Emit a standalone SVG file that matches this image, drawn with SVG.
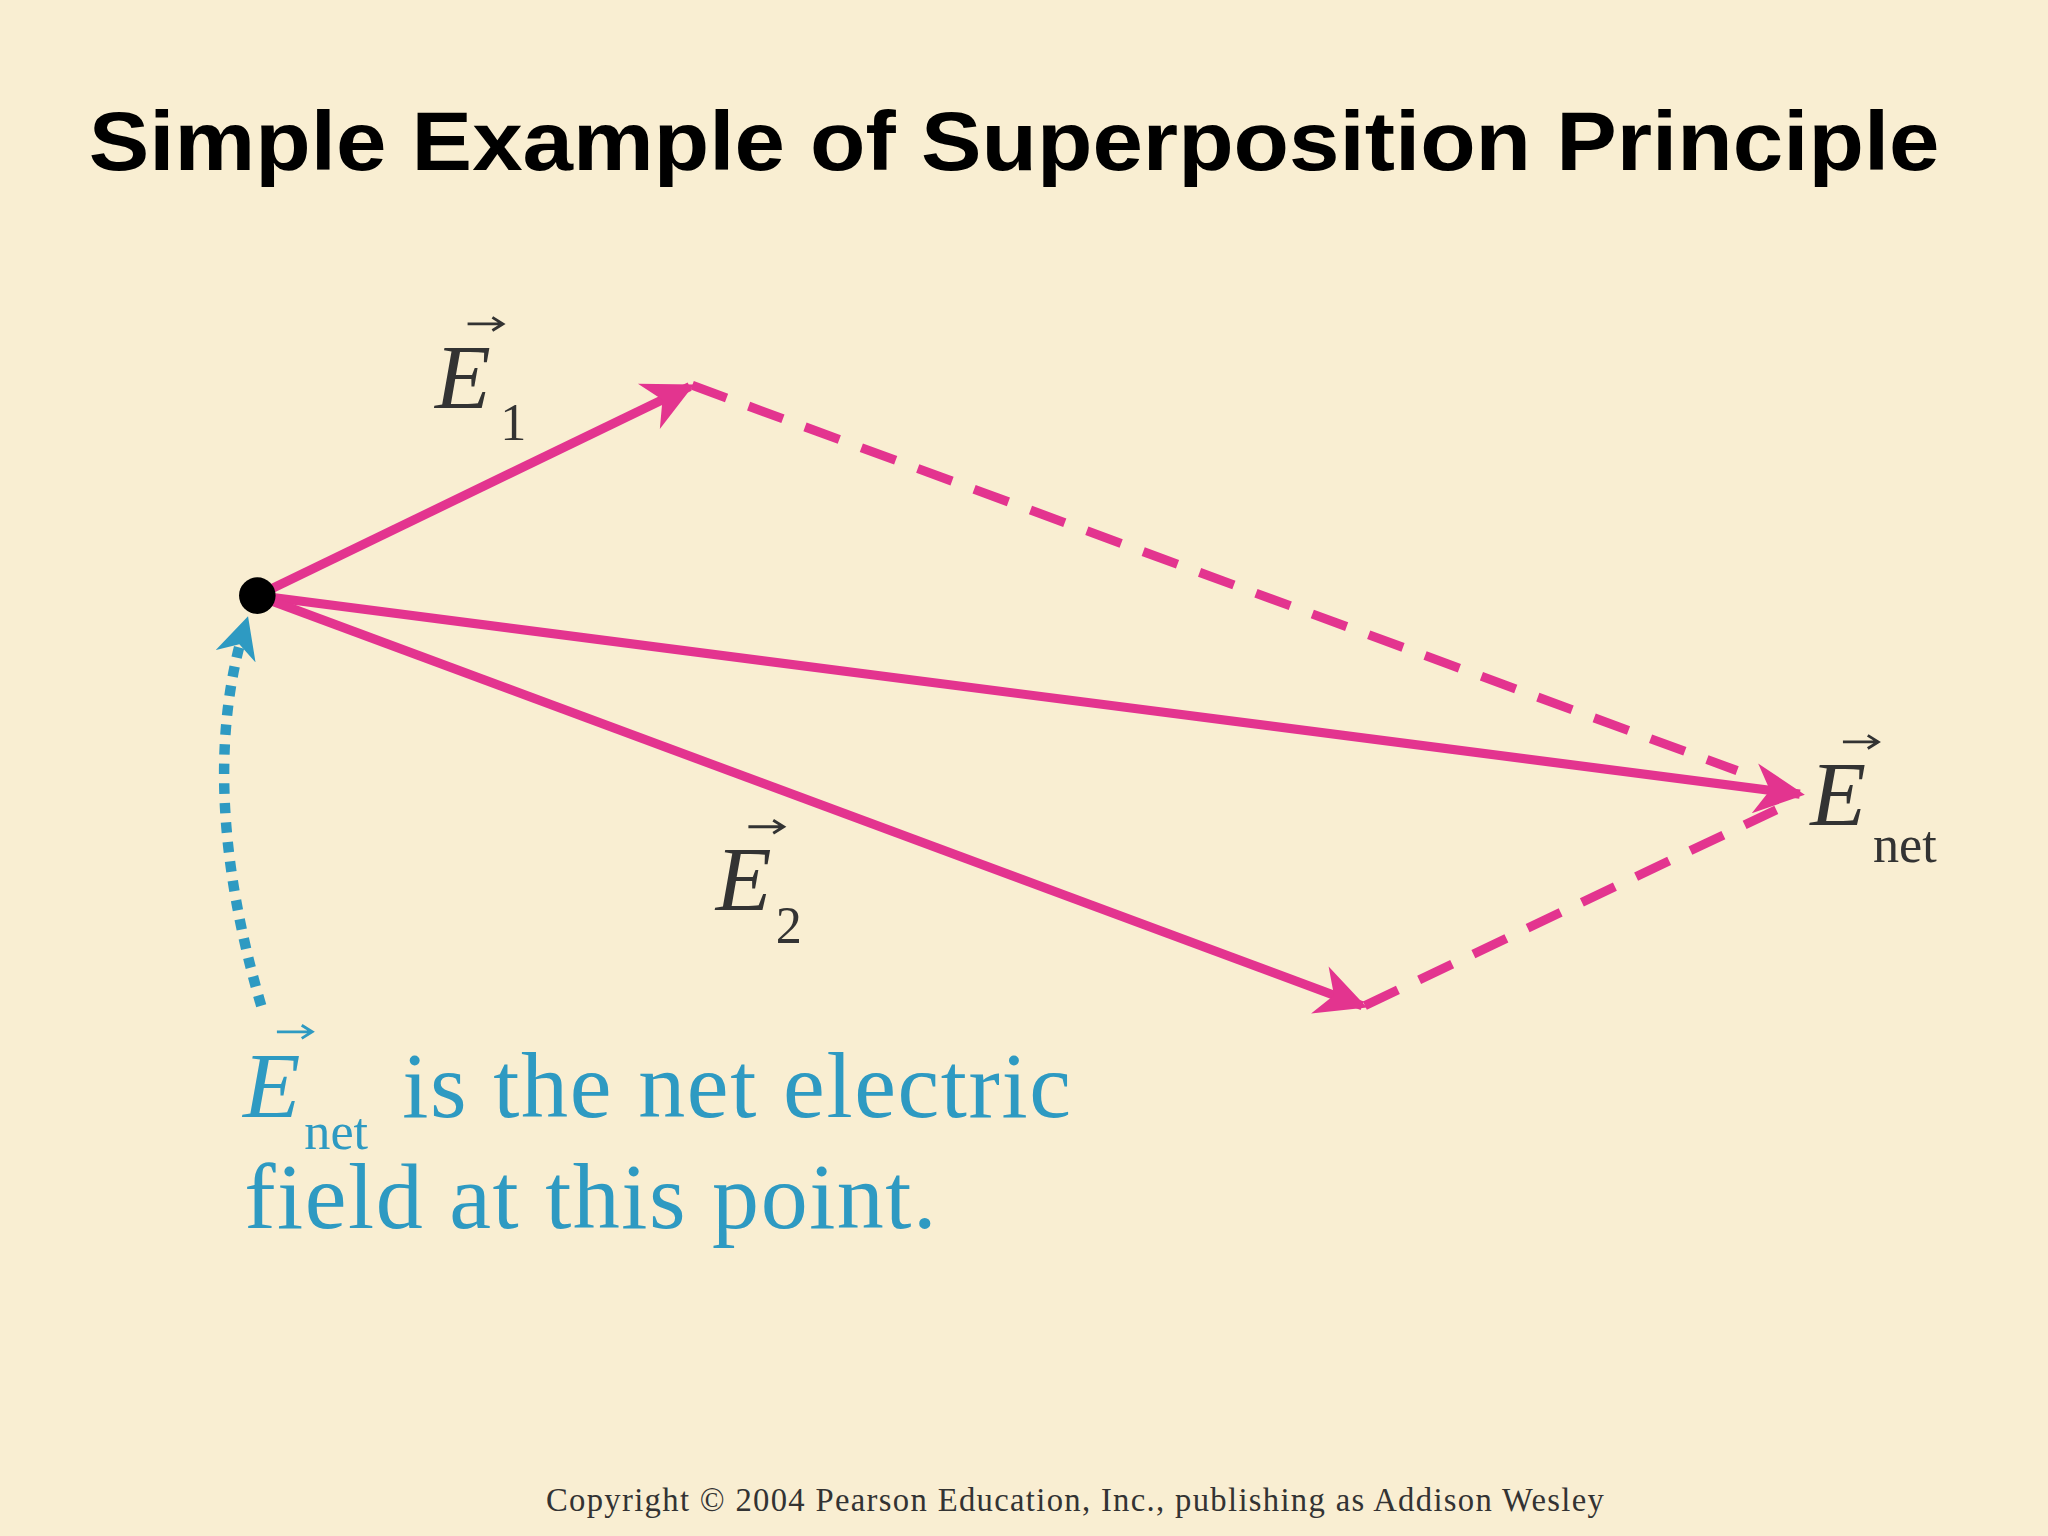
<svg xmlns="http://www.w3.org/2000/svg" width="2048" height="1536" viewBox="0 0 2048 1536">
<defs>
<style>
.t{font-family:"Liberation Serif",serif}
.pk{stroke:#E3348F;stroke-width:7;fill:none}
.vec{stroke:#333;stroke-width:2.2;fill:none}
.bl{fill:#2E9AC2}
</style>
<marker id="ah" viewBox="0 0 10 10" refX="9" refY="5" markerWidth="7" markerHeight="5.5" markerUnits="strokeWidth" orient="auto"><path d="M0,0 L10,5 L0,10 L3,5 Z" fill="#E3348F"/></marker>
<marker id="bh" viewBox="0 0 10 10" refX="8" refY="5" markerWidth="4" markerHeight="4" markerUnits="strokeWidth" orient="auto"><path d="M0,0 L10,5 L0,10 L3,5 Z" fill="#2E9AC2"/></marker>
</defs>
<rect width="2048" height="1536" fill="#F9EED2"/>
<g transform="scale(1.30612)">
<text x="68" y="130" font-family="Liberation Sans,Arial,sans-serif" font-weight="bold" font-size="64" textLength="1417" lengthAdjust="spacingAndGlyphs">Simple Example of Superposition Principle</text>
<g id="connectors">
<line class="pk" x1="197" y1="456" x2="528" y2="296" marker-end="url(#ah)"/>
<line class="pk" x1="197" y1="456" x2="1378" y2="608" marker-end="url(#ah)"/>
<line class="pk" x1="197" y1="456" x2="1043" y2="770" marker-end="url(#ah)"/>
<line class="pk" x1="530" y1="295" x2="1330" y2="590" stroke-dasharray="28,18"/>
<line class="pk" x1="1045" y1="770" x2="1360" y2="620" stroke-dasharray="28,18"/>
<path d="M200,770 Q150,600 188,478" stroke="#2E9AC2" stroke-width="8" fill="none" stroke-dasharray="8,7" marker-end="url(#bh)"/>
</g>
<g id="point"><circle cx="197" cy="456" r="14" fill="#000"/></g>
<g id="E1">
<text class="t" x="333" y="312" font-size="70" font-style="italic" fill="#333">E</text>
<text class="t" x="383" y="337" font-size="40" fill="#333">1</text>
<path class="vec" d="M358,248 H384 M377,243 L385,248 L377,253"/>
</g>
<g id="E2">
<text class="t" x="548" y="697" font-size="70" font-style="italic" fill="#333">E</text>
<text class="t" x="594" y="722" font-size="40" fill="#333">2</text>
<path class="vec" d="M573,633 H599 M592,628 L600,633 L592,638"/>
</g>
<g id="Enet">
<text class="t" x="1386" y="632" font-size="70" font-style="italic" fill="#333">E</text>
<text class="t" x="1434" y="660" font-size="40" fill="#333">net</text>
<path class="vec" d="M1411,568 H1437 M1430,563 L1438,568 L1430,573"/>
</g>
<g id="note">
<text class="t bl" x="186" y="855" font-size="72" font-style="italic">E</text>
<text class="t bl" x="233" y="880" font-size="40">net</text>
<text class="t bl" x="308" y="855" font-size="72" textLength="512">is the net electric</text>
<text class="t bl" x="187" y="940" font-size="72" textLength="530">field at this point.</text>
<path d="M212,790 H238 M231,785 L239,790 L231,795" stroke="#2E9AC2" stroke-width="2.2" fill="none"/>
</g>
<text class="t" x="418" y="1157" font-size="25" fill="#333" textLength="810">Copyright © 2004 Pearson Education, Inc., publishing as Addison Wesley</text>
</g>
</svg>
